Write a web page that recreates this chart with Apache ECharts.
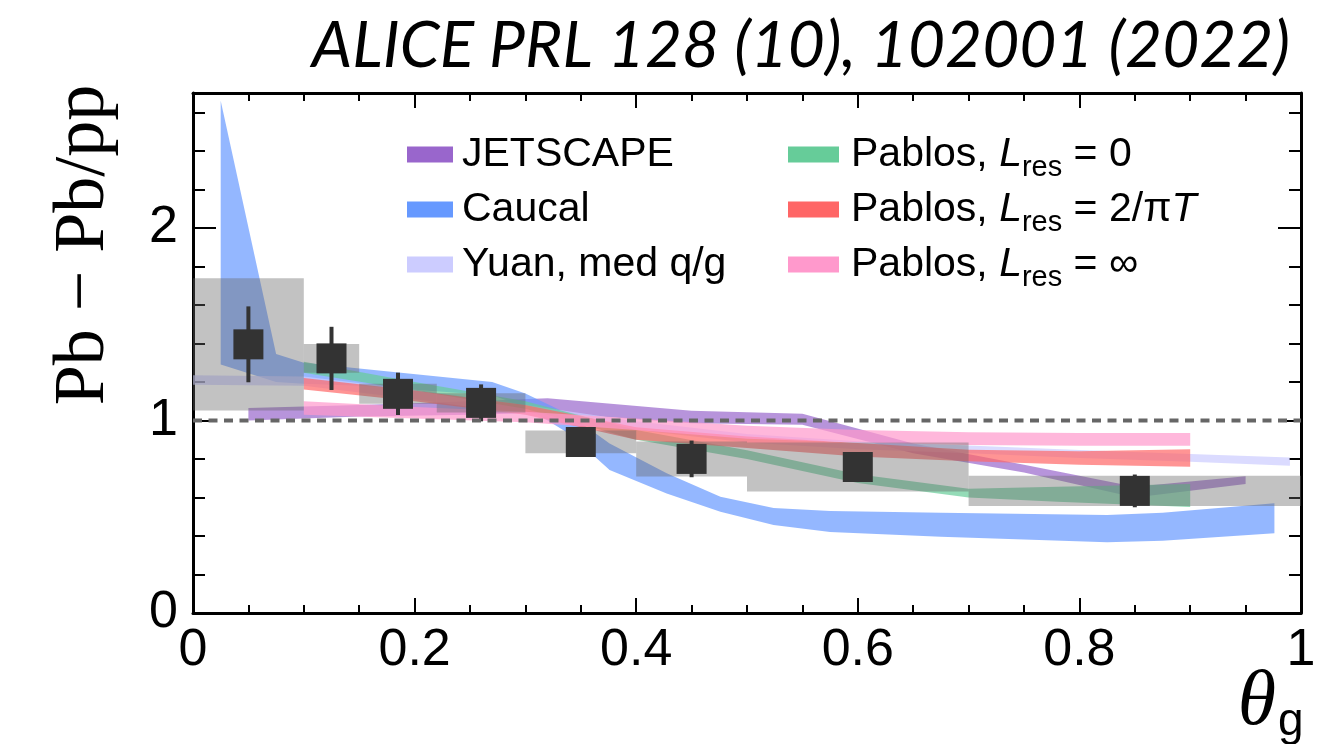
<!DOCTYPE html>
<html>
<head>
<meta charset="utf-8">
<script src="https://cdn.jsdelivr.net/npm/echarts@6/dist/echarts.min.js"></script>
<style>
  html, body { margin: 0; padding: 0; background: #ffffff; }
  #chart { width: 1321px; height: 744px; }
</style>
</head>
<body>
<div id="chart"></div>
<script>
// Measured Pb–Pb/pp ratio versus groomed jet radius θg
const binLo   = [0.00, 0.10, 0.15, 0.22, 0.30, 0.40, 0.50, 0.70];
const binHi   = [0.10, 0.15, 0.22, 0.30, 0.40, 0.50, 0.70, 1.00];
const thetaG  = [0.05, 0.125, 0.185, 0.26, 0.35, 0.45, 0.60, 0.85];
const ratio   = [1.395, 1.322, 1.138, 1.091, 0.888, 0.800, 0.758, 0.634];
const statErr = [0.197, 0.164, 0.110, 0.096, 0.050, 0.095, 0.050, 0.085];
const sysErr  = [0.343, 0.075, 0.052, 0.050, 0.059, 0.091, 0.127, 0.078];

// Model predictions (lower / upper edge of each band)
const jetscapeX  = [0.05, 0.15, 0.25, 0.32, 0.45, 0.55, 0.65, 0.75, 0.85, 0.95];
const jetscapeLo = [1.00, 1.02, 1.03, 1.04, 0.985, 0.977, 0.83, 0.73, 0.60, 0.67];
const jetscapeHi = [1.065, 1.08, 1.10, 1.115, 1.05, 1.034, 0.88, 0.77, 0.655, 0.71];

const caucalX  = [0.025, 0.075, 0.10, 0.15, 0.27, 0.30, 0.34, 0.376, 0.4275, 0.476, 0.524, 0.575, 0.675, 0.825, 0.875, 0.976];
const caucalLo = [1.29, 1.20, 1.19, 1.18, 1.13, 1.07, 0.93, 0.743, 0.62, 0.526, 0.457, 0.42, 0.396, 0.367, 0.375, 0.414];
const caucalHi = [2.66, 1.345, 1.30, 1.27, 1.20, 1.14, 1.03, 0.88, 0.726, 0.604, 0.545, 0.53, 0.521, 0.509, 0.521, 0.57];

const yuanX  = [0.00, 0.10, 0.20, 0.30, 0.40, 0.50, 0.60, 0.70, 0.80, 0.90, 0.99];
const yuanLo = [1.185, 1.18, 1.11, 1.03, 0.95, 0.885, 0.85, 0.83, 0.805, 0.785, 0.765];
const yuanHi = [1.235, 1.228, 1.16, 1.08, 0.995, 0.93, 0.892, 0.87, 0.846, 0.826, 0.807];

const pablos0X  = [0.10, 0.20, 0.30, 0.40, 0.50, 0.60, 0.70, 0.78, 0.90];
const pablos0Lo = [1.248, 1.155, 1.06, 0.90, 0.80, 0.675, 0.60, 0.578, 0.55];
const pablos0Hi = [1.305, 1.20, 1.10, 0.95, 0.845, 0.72, 0.645, 0.655, 0.67];

const pablos2X  = [0.10, 0.20, 0.30, 0.40, 0.50, 0.60, 0.70, 0.80, 0.90];
const pablos2Lo = [1.16, 1.10, 1.03, 0.90, 0.857, 0.812, 0.788, 0.77, 0.76];
const pablos2Hi = [1.22, 1.155, 1.08, 0.965, 0.916, 0.883, 0.848, 0.84, 0.85];

const pablosInfX  = [0.10, 0.20, 0.30, 0.40, 0.50, 0.60, 0.70, 0.80, 0.90];
const pablosInfLo = [1.03, 1.01, 0.99, 0.95, 0.905, 0.885, 0.872, 0.868, 0.868];
const pablosInfHi = [1.10, 1.07, 1.045, 1.01, 0.972, 0.95, 0.938, 0.935, 0.935];

// Reference line at unity
const unityX = [0, 1];
const unityY = [1, 1];

// Axis tick labels
const xTickLabels = ['0', '0.2', '0.4', '0.6', '0.8', '1'];
const yTickLabels = ['0', '1', '2'];

const SANS = 'Liberation Sans';
const SERIF = 'Liberation Serif';

function band(name, color, xs, lo, hi) {
  return {
    type: 'custom',
    name: name,
    coordinateSystem: 'cartesian2d',
    xAxisIndex: 0, yAxisIndex: 0,
    itemStyle: { color: color },
    silent: true,
    data: xs.map(function (x, i) { return [x, lo[i], hi[i]]; }),
    encode: { x: 0, y: [1, 2] },
    renderItem: function (params, api) {
      if (params.dataIndex !== 0) return null;
      const pts = [];
      for (let i = 0; i < xs.length; i++) pts.push(api.coord([xs[i], hi[i]]));
      for (let j = xs.length - 1; j >= 0; j--) pts.push(api.coord([xs[j], lo[j]]));
      return { type: 'polygon', shape: { points: pts }, style: { fill: color, opacity: 0.7 } };
    }
  };
}

const bands = [
  band('JETSCAPE', '#9966cc', jetscapeX, jetscapeLo, jetscapeHi),
  band('Caucal', '#6699ff', caucalX, caucalLo, caucalHi),
  band('Yuan, med q/g', '#ccccff', yuanX, yuanLo, yuanHi),
  band('Pablos, Lres = 0', '#66cc99', pablos0X, pablos0Lo, pablos0Hi),
  band('Pablos, Lres = 2/πT', '#ff6666', pablos2X, pablos2Lo, pablos2Hi),
  band('Pablos, Lres = ∞', '#ff99cc', pablosInfX, pablosInfLo, pablosInfHi)
];

const legendLabels = {
  'JETSCAPE': '{n|JETSCAPE}',
  'Caucal': '{n|Caucal}',
  'Yuan, med q/g': '{n|Yuan, med q/g}',
  'Pablos, Lres = 0': '{n|Pablos, }{i|L}{s|res}{n| = 0}',
  'Pablos, Lres = 2/πT': '{n|Pablos, }{i|L}{s|res}{n| = 2/π}{i|T}',
  'Pablos, Lres = ∞': '{n|Pablos, }{i|L}{s|res}{n| = ∞}'
};

const legendRich = {
  n: { fontSize: 41, fontFamily: SANS, lineHeight: 55, color: '#000' },
  i: { fontSize: 41, fontFamily: SANS, fontStyle: 'italic', lineHeight: 55, color: '#000' },
  s: { fontSize: 29, fontFamily: SANS, lineHeight: 30, verticalAlign: 'bottom', color: '#000' }
};

// one legend component per row so every row sits at its own height
function legendRow(name, left, top, iconWidth, textPad) {
  return {
    orient: 'vertical',
    left: left, top: top,
    padding: 0,
    itemWidth: iconWidth,
    itemHeight: 16,
    icon: 'rect',
    selectedMode: false,
    data: [name],
    formatter: function (n) { return legendLabels[n]; },
    textStyle: { fontSize: 41, fontFamily: SANS, color: '#000', padding: [0, 0, 0, textPad], rich: legendRich }
  };
}

function xAxisDef(pos, showLabels) {
  return {
    type: 'value', position: pos, min: 0, max: 1, interval: 0.2,
    axisLine: { show: true, onZero: false, lineStyle: { color: '#000', width: 3 } },
    axisTick: { show: true, inside: true, length: 15, lineStyle: { color: '#000', width: 2 } },
    minorTick: { show: true, splitNumber: 4, length: 8, lineStyle: { color: '#000', width: 2 } },
    splitLine: { show: false },
    axisLabel: {
      show: showLabels, margin: 12, fontSize: 52, fontFamily: SANS, color: '#000',
      formatter: function (v) { const k = Math.round(v / 0.2); return xTickLabels[k] || ''; }
    }
  };
}

function yAxisDef(pos, showLabels) {
  return {
    type: 'value', position: pos, min: 0, max: 2.7, interval: 1,
    axisLine: { show: true, onZero: false, lineStyle: { color: '#000', width: 3 } },
    axisTick: { show: true, inside: true, length: 23, lineStyle: { color: '#000', width: 2 } },
    minorTick: { show: true, splitNumber: 5, length: 12, lineStyle: { color: '#000', width: 2 } },
    splitLine: { show: false },
    axisLabel: {
      show: showLabels, margin: 15, fontSize: 52, fontFamily: SANS, color: '#000',
      showMaxLabel: false,
      formatter: function (v) { return Number.isInteger(v) ? (yTickLabels[v] || '') : ''; }
    }
  };
}

const chart = echarts.init(document.getElementById('chart'), null, { renderer: 'canvas' });

chart.setOption({
  animation: false,
  backgroundColor: '#ffffff',
  grid: { left: 193, right: 20, top: 93, bottom: 131, containLabel: false },
  xAxis: [xAxisDef('bottom', true), xAxisDef('top', false)],
  yAxis: [yAxisDef('left', true), yAxisDef('right', false)],
  legend: [
    legendRow('JETSCAPE', 407, 134, 46, 4),
    legendRow('Caucal', 407, 189, 46, 4),
    legendRow('Yuan, med q/g', 407, 244, 46, 4),
    legendRow('Pablos, Lres = 0', 788, 134, 51, 7),
    legendRow('Pablos, Lres = 2/πT', 788, 189, 51, 7),
    legendRow('Pablos, Lres = ∞', 788, 244, 51, 7)
  ],
  graphic: [
    {
      type: 'text', x: 1290, y: 46,
      style: { text: 'ALICE PRL 128 (10), 102001 (2022)', font: 'italic 64px Lato', fill: '#000', align: 'right', verticalAlign: 'middle' }
    },
    {
      type: 'text', x: 84, y: 245, rotation: Math.PI / 2,
      style: { text: 'Pb − Pb/pp', font: '72px "' + SERIF + '"', fill: '#000', align: 'center', verticalAlign: 'middle' }
    },
    {
      type: 'text', x: 1276, y: 703,
      style: { text: 'θ', font: 'italic 78px "' + SERIF + '"', fill: '#000', align: 'right', verticalAlign: 'middle' }
    },
    {
      type: 'text', x: 1278, y: 722,
      style: { text: 'g', font: '46px "' + SANS + '"', fill: '#000', align: 'left', verticalAlign: 'middle' }
    }
  ],
  series: bands.concat([
    {
      // systematic uncertainty boxes
      type: 'custom', name: 'sys', silent: true,
      data: thetaG.map(function (x, i) { return [binLo[i], binHi[i], ratio[i] - sysErr[i], ratio[i] + sysErr[i]]; }),
      encode: { x: [0, 1], y: [2, 3] },
      renderItem: function (params, api) {
        const p0 = api.coord([api.value(0), api.value(3)]);
        const p1 = api.coord([api.value(1), api.value(2)]);
        return { type: 'rect', shape: { x: p0[0], y: p0[1], width: p1[0] - p0[0], height: p1[1] - p0[1] },
                 style: { fill: 'rgba(102,102,102,0.4)' } };
      }
    },
    {
      type: 'line', name: 'unity', silent: true,
      data: unityX.map(function (x, i) { return [x, unityY[i]]; }),
      symbol: 'none',
      lineStyle: { color: '#666666', width: 4, type: [9, 6.5] }
    },
    {
      // statistical error bars
      type: 'custom', name: 'stat', silent: true,
      data: thetaG.map(function (x, i) { return [x, ratio[i] - statErr[i], ratio[i] + statErr[i]]; }),
      encode: { x: 0, y: [1, 2] },
      renderItem: function (params, api) {
        const a = api.coord([api.value(0), api.value(1)]);
        const b = api.coord([api.value(0), api.value(2)]);
        return { type: 'line', shape: { x1: a[0], y1: a[1], x2: b[0], y2: b[1] },
                 style: { stroke: '#333333', lineWidth: 4 } };
      }
    },
    {
      type: 'scatter', name: 'data', silent: true,
      data: thetaG.map(function (x, i) { return [x, ratio[i]]; }),
      symbol: 'rect', symbolSize: 30,
      itemStyle: { color: '#333333', opacity: 1 }
    }
  ])
});
</script>
</body>
</html>
